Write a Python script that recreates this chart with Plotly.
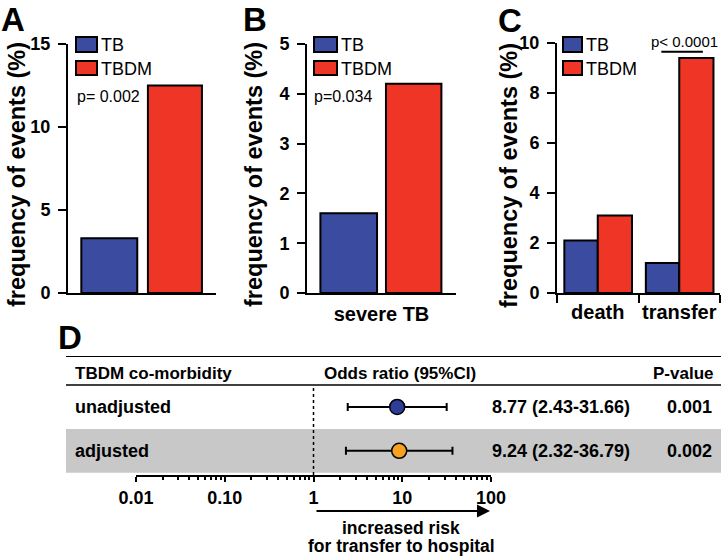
import plotly.graph_objects as go

W, H = 724, 556
FONT = "Liberation Sans, Arial, sans-serif"
BLUE = "#3B4CA0"
RED = "#EE3526"
NAVY = "#2E3E98"
ORANGE = "#F6A11F"
GRAY = "#C8C8C8"

# ---------------- data ----------------
series_names = ["TB", "TBDM"]

a_categories = ["all"]
a_tb = [3.3]
a_tbdm = [12.5]
a_yticks = [0, 5, 10, 15]
a_p = "p= 0.002"

b_categories = ["severe TB"]
b_tb = [1.6]
b_tbdm = [4.2]
b_yticks = [0, 1, 2, 3, 4, 5]
b_p = "p=0.034"

c_categories = ["death", "transfer"]
c_tb = [2.1, 1.2]
c_tbdm = [3.1, 9.4]
c_yticks = [0, 2, 4, 6, 8, 10]
c_p = "p< 0.0001"

forest_rows = ["unadjusted", "adjusted"]
forest_ypos = [1, 0]
odds_ratio = [8.77, 9.24]
ci_low = [2.43, 2.32]
ci_high = [31.66, 36.79]
or_text = ["8.77 (2.43-31.66)", "9.24 (2.32-36.79)"]
p_values = ["0.001", "0.002"]
forest_colors = [NAVY, ORANGE]
or_ticks = [0.01, 0.1, 1, 10, 100]
or_ticktext = ["0.01", "0.10", "1", "10", "100"]
or_minor = [m * 10 ** k for k in (-2, -1, 0, 1) for m in range(2, 10)]

headers = ["TBDM co-morbidity", "Odds ratio (95%CI)", "P-value"]
ylabel = "frequency of events (%)"


def px(x):
    return x / W


def py(y):
    return 1 - y / H


fig = go.Figure()

bar_line = dict(color="black", width=2)


def add_bars(cats, tb, tbdm, xa, ya, tb_off, tb_w, dm_off, dm_w):
    fig.add_trace(go.Bar(x=cats, y=tb, name=series_names[0], xaxis=xa, yaxis=ya,
                         marker=dict(color=BLUE, line=bar_line),
                         offset=tb_off, width=tb_w, showlegend=False))
    fig.add_trace(go.Bar(x=cats, y=tbdm, name=series_names[1], xaxis=xa, yaxis=ya,
                         marker=dict(color=RED, line=bar_line),
                         offset=dm_off, width=dm_w, showlegend=False))


add_bars(a_categories, a_tb, a_tbdm, "x", "y", -0.41, 0.378, 0.04, 0.365)
add_bars(b_categories, b_tb, b_tbdm, "x2", "y2", -0.41, 0.38, 0.03, 0.372)
add_bars(c_categories, c_tb, c_tbdm, "x3", "y3", -0.41, 0.41, 0.0, 0.42)

# dotted reference line at OR = 1
fig.add_trace(go.Scatter(x=[1, 1], y=[-0.55, 1.5], mode="lines", xaxis="x4", yaxis="y4",
                         line=dict(color="black", width=1.5, dash="dot"),
                         showlegend=False, hoverinfo="skip"))

# forest points
for i in range(len(forest_rows)):
    fig.add_trace(go.Scatter(
        x=[odds_ratio[i]], y=[forest_ypos[i]], mode="markers", xaxis="x4", yaxis="y4",
        marker=dict(size=15, color=forest_colors[i], line=dict(color="black", width=1.5)),
        error_x=dict(type="data", symmetric=False,
                     array=[ci_high[i] - odds_ratio[i]],
                     arrayminus=[odds_ratio[i] - ci_low[i]],
                     color="black", thickness=2, width=4),
        name=forest_rows[i], showlegend=False))

tickfont = dict(family=FONT, size=18, color="black", weight="bold")
yax_common = dict(showline=True, linecolor="black", linewidth=2, ticks="outside",
                  ticklen=8, tickwidth=2, tickcolor="black", showgrid=False,
                  zeroline=False, tickfont=tickfont, fixedrange=True,
                  ticklabelstandoff=4, automargin=False)
xax_common = dict(showline=True, linecolor="black", linewidth=2, showgrid=False,
                  zeroline=False, tickangle=0, automargin=False,
                  tickfont=dict(family=FONT, size=20, color="black", weight="bold"),
                  fixedrange=True)

ydom = [py(293), py(44)]
fig.update_layout(
    xaxis=dict(domain=[px(68), px(216)], anchor="y", range=[-0.5, 0.5],
               showticklabels=False, ticks="", **xax_common),
    yaxis=dict(domain=ydom, anchor="x", range=[0, 15], tickvals=a_yticks, **yax_common),
    xaxis2=dict(domain=[px(307), px(456)], anchor="y2", range=[-0.5, 0.5],
                ticks="", ticklabelstandoff=2, **xax_common),
    yaxis2=dict(domain=ydom, anchor="x2", range=[0, 5], tickvals=b_yticks, **yax_common),
    xaxis3=dict(domain=[px(557), px(720)], anchor="y3", range=[-0.5, 1.5],
                ticks="outside", tickson="boundaries", ticklen=8, tickwidth=2,
                tickcolor="black", **xax_common),
    yaxis3=dict(domain=[py(293), py(43)], anchor="x3", range=[0, 10], tickvals=c_yticks,
                **yax_common),
    xaxis4=dict(domain=[px(136), px(491)], anchor="y4", type="log", range=[-2, 2],
                showline=True, linecolor="black", linewidth=2, showgrid=False,
                zeroline=False, ticks="outside", ticklen=5, tickwidth=2, tickcolor="black",
                tickvals=or_ticks, ticktext=or_ticktext, tickfont=tickfont,
                minor=dict(tickmode="array", tickvals=or_minor, ticks="outside",
                           ticklen=3, tickwidth=1.5, tickcolor="black", showgrid=False),
                fixedrange=True, automargin=False),
    yaxis4=dict(domain=[py(475), py(356)], anchor="x4", range=[-0.55, 2.16],
                visible=False, fixedrange=True, automargin=False),
)

shapes = []
annotations = []

# panel letters
for letter, x, y in [("A", 0, 19), ("B", 242, 19), ("C", 497, 20), ("D", 57, 337)]:
    annotations.append(dict(text=letter, x=px(x), y=py(y), xref="paper", yref="paper",
                            xanchor="left", yanchor="middle", showarrow=False, borderpad=0,
                            font=dict(family=FONT, size=33, color="black", weight="bold")))

# y-axis titles
for x in (17, 254, 509):
    annotations.append(dict(text=ylabel, x=px(x), y=py(175), xref="paper", yref="paper",
                            xanchor="center", yanchor="middle", textangle=-90, showarrow=False,
                            font=dict(family=FONT, size=23.5, color="black", weight="bold")))

# manual legends
legend_font = dict(family=FONT, size=18, color="black")
for (bx0, bx1, tx) in [(76, 97, 99), (314, 337, 339), (563, 582, 584)]:
    for (y0, y1, col, name) in [(37, 52, BLUE, series_names[0]), (61, 75, RED, series_names[1])]:
        shapes.append(dict(type="rect", xref="paper", yref="paper",
                           x0=px(bx0), x1=px(bx1), y0=py(y1), y1=py(y0),
                           fillcolor=col, line=dict(color="black", width=2)))
        annotations.append(dict(text=name, x=px(tx), y=py((y0 + y1) / 2 + 0.5), xref="paper",
                                yref="paper", xanchor="left", yanchor="middle",
                                showarrow=False, font=legend_font))

# p-values of bar panels
pfont = dict(family=FONT, size=16, color="black")
annotations.append(dict(text=a_p, x=px(75), y=py(96), xref="paper", yref="paper",
                        xanchor="left", yanchor="middle", showarrow=False, font=pfont))
annotations.append(dict(text=b_p, x=px(312), y=py(96), xref="paper", yref="paper",
                        xanchor="left", yanchor="middle", showarrow=False, font=pfont))
annotations.append(dict(text=c_p, x=px(684), y=py(42), xref="paper", yref="paper",
                        xanchor="center", yanchor="middle", showarrow=False,
                        font=dict(family=FONT, size=15, color="black")))
shapes.append(dict(type="line", xref="x3", yref="y3", x0=0.78, x1=1.29, y0=9.65, y1=9.65,
                   line=dict(color="black", width=2)))

# forest table
shapes.append(dict(type="rect", xref="paper", yref="y4", x0=px(66), x1=px(721),
                   y0=-0.5, y1=0.5, fillcolor=GRAY, line=dict(width=0), layer="below"))
shapes.append(dict(type="line", xref="paper", yref="y4", x0=px(66), x1=px(721),
                   y0=2.16, y1=2.16, line=dict(color="black", width=2)))
shapes.append(dict(type="line", xref="paper", yref="y4", x0=px(66), x1=px(721),
                   y0=1.5, y1=1.5, line=dict(color="black", width=1.5)))

hdr_font = dict(family=FONT, size=17, color="black", weight="bold")
row_font = dict(family=FONT, size=18, color="black", weight="bold")
cap_font = dict(family=FONT, size=17.5, color="black", weight="bold")
annotations.append(dict(text=headers[0], x=px(73), y=1.77, xref="paper", yref="y4",
                        xanchor="left", yanchor="middle", showarrow=False, font=hdr_font))
annotations.append(dict(text=headers[1], x=px(322), y=1.77, xref="paper", yref="y4",
                        xanchor="left", yanchor="middle", showarrow=False, font=hdr_font))
annotations.append(dict(text=headers[2], x=px(715), y=1.77, xref="paper", yref="y4",
                        xanchor="right", yanchor="middle", showarrow=False, font=hdr_font))
for i in range(len(forest_rows)):
    annotations.append(dict(text=forest_rows[i], x=px(73), y=forest_ypos[i], xref="paper",
                            yref="y4", xanchor="left", yanchor="middle", showarrow=False,
                            font=row_font))
    annotations.append(dict(text=or_text[i], x=px(561), y=forest_ypos[i], xref="paper",
                            yref="y4", xanchor="center", yanchor="middle", showarrow=False,
                            font=row_font))
    annotations.append(dict(text=p_values[i], x=px(714), y=forest_ypos[i], xref="paper",
                            yref="y4", xanchor="right", yanchor="middle", showarrow=False,
                            font=row_font))

# arrow and caption
annotations.append(dict(text="", x=px(490), y=py(511), xref="paper", yref="paper",
                        ax=-175, ay=0, axref="pixel", ayref="pixel", showarrow=True,
                        arrowhead=2, arrowsize=1.3, arrowwidth=2, arrowcolor="black"))
annotations.append(dict(text="increased risk", x=px(401), y=py(528), xref="paper", yref="paper",
                        xanchor="center", yanchor="middle", showarrow=False, font=cap_font,
                        borderpad=0))
annotations.append(dict(text="for transfer to hospital", x=px(401), y=py(545.5), xref="paper",
                        yref="paper", xanchor="center", yanchor="middle", showarrow=False,
                        font=cap_font, borderpad=0))

fig.update_layout(
    width=W, height=H, margin=dict(l=0, r=0, t=0, b=0, pad=0, autoexpand=False),
    paper_bgcolor="white", plot_bgcolor="rgba(0,0,0,0)",
    barmode="group", shapes=shapes, annotations=annotations,
    font=dict(family=FONT, color="black"), showlegend=False,
)

fig.write_html(
    "out.html",
    config={"displayModeBar": False},
    post_script="document.body.style.margin='0px';"
                "document.documentElement.style.overflow='hidden';",
)
